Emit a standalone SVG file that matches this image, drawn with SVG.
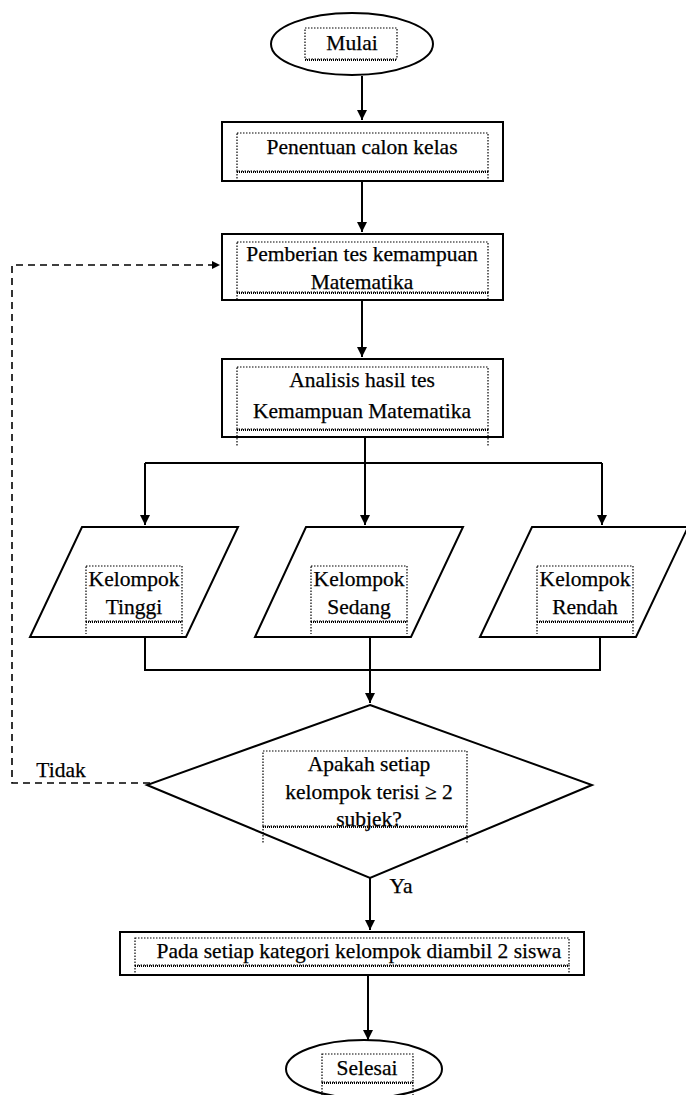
<svg xmlns="http://www.w3.org/2000/svg" width="686" height="1095" viewBox="0 0 686 1095">
<style>
.sh{fill:#fff;stroke:#000;stroke-width:2}
.tb{fill:none;stroke:#000;stroke-width:1.2;stroke-dasharray:1.5 1.5}
.wv{fill:none;stroke:#000;stroke-width:2.2;stroke-dasharray:1 1}
.ln{fill:none;stroke:#000;stroke-width:2}
.dl{fill:none;stroke:#000;stroke-width:1.6;stroke-dasharray:7 5}
.t{fill:#000;stroke:#000;stroke-width:0.25;text-anchor:middle}
</style>
<defs>
<marker id="ah" viewBox="0 0 10 10" refX="10" refY="5" markerWidth="5" markerHeight="5" orient="auto" markerUnits="strokeWidth">
<path d="M0,0 L10,5 L0,10 z" fill="#000"/>
</marker>
</defs>
<rect width="686" height="1095" fill="#fff"/>
<g font-family="Liberation Serif, Times New Roman, serif" font-size="21.5">
<g id="connectors">
<path class="ln" d="M362,76 V120" marker-end="url(#ah)"/>
<path class="ln" d="M362,181 V232" marker-end="url(#ah)"/>
<path class="ln" d="M362,300 V357" marker-end="url(#ah)"/>
<path class="ln" d="M365,437 V463 M145,463 H602"/>
<path class="ln" d="M145,463 V525" marker-end="url(#ah)"/>
<path class="ln" d="M365,463 V525" marker-end="url(#ah)"/>
<path class="ln" d="M602,463 V525" marker-end="url(#ah)"/>
<path class="ln" d="M145,637 V670 H600 V637 M370,637 V670"/>
<path class="ln" d="M370,670 V703" marker-end="url(#ah)"/>
<path class="dl" d="M150,783 H12 V265 H220" marker-end="url(#ah)"/>
<path class="ln" d="M370,878 V930" marker-end="url(#ah)"/>
<path class="ln" d="M368,975 V1040" marker-end="url(#ah)"/>
<text class="t" x="61" y="777">Tidak</text>
<text class="t" x="401" y="893">Ya</text>
</g>
<g id="mulai">
<ellipse class="sh" cx="352" cy="44" rx="81" ry="31"/>
<rect class="tb" x="305" y="28" width="92" height="31"/>
<path class="wv" d="M305,60 H397"/>
<text class="t" x="352" y="50">Mulai</text>
</g>
<g id="penentuan">
<rect class="sh" x="222" y="122" width="281" height="59"/>
<rect class="tb" x="237" y="133" width="251" height="38"/>
<path class="wv" d="M237,172 H488"/>
<path class="tb" d="M237,171 V181 M488,171 V181"/>
<text class="t" x="362" y="154">Penentuan calon kelas</text>
</g>
<g id="pemberian">
<rect class="sh" x="222" y="234" width="281" height="66"/>
<rect class="tb" x="237" y="242" width="251" height="50"/>
<path class="wv" d="M237,293 H488"/>
<path class="tb" d="M237,292 V300 M488,292 V300"/>
<text class="t" x="362" y="261">Pemberian tes kemampuan</text>
<text class="t" x="362" y="289">Matematika</text>
</g>
<g id="analisis">
<rect class="sh" x="222" y="359" width="281" height="78"/>
<rect class="tb" x="237" y="367" width="251" height="62"/>
<path class="wv" d="M237,430 H488"/>
<path class="tb" d="M237,429 V446 M488,429 V446"/>
<text class="t" x="362" y="387">Analisis hasil tes</text>
<text class="t" x="362" y="418">Kemampuan Matematika</text>
</g>
<g id="tinggi">
<polygon class="sh" points="82,527 238,527 186,637 30,637"/>
<rect class="tb" x="86" y="566" width="96" height="55"/>
<path class="wv" d="M86,622 H182"/>
<path class="tb" d="M86,621 V634 M182,621 V634"/>
<text class="t" x="134" y="586">Kelompok</text>
<text class="t" x="134" y="614">Tinggi</text>
</g>
<g id="sedang">
<polygon class="sh" points="306,527 463,527 411,637 255,637"/>
<rect class="tb" x="311" y="566" width="96" height="55"/>
<path class="wv" d="M311,622 H407"/>
<path class="tb" d="M311,621 V634 M407,621 V634"/>
<text class="t" x="359" y="586">Kelompok</text>
<text class="t" x="359" y="614">Sedang</text>
</g>
<g id="rendah">
<polygon class="sh" points="532,527 688,527 636,637 480,637"/>
<rect class="tb" x="537" y="566" width="96" height="55"/>
<path class="wv" d="M537,622 H633"/>
<path class="tb" d="M537,621 V634 M633,621 V634"/>
<text class="t" x="585" y="586">Kelompok</text>
<text class="t" x="585" y="614">Rendah</text>
</g>
<g id="keputusan">
<polygon class="sh" points="370,705 592,785 370,878 147,785"/>
<rect class="tb" x="263" y="751" width="204" height="75"/>
<path class="wv" d="M263,827 H467"/>
<path class="tb" d="M263,826 V844 M467,826 V844"/>
<text class="t" x="369" y="771">Apakah setiap</text>
<text class="t" x="369" y="799">kelompok terisi ≥ 2</text>
<text class="t" x="369" y="826">subjek?</text>
</g>
<g id="pada">
<rect class="sh" x="120" y="932" width="464" height="43"/>
<rect class="tb" x="135" y="938" width="434" height="27"/>
<path class="wv" d="M135,966 H569"/>
<path class="tb" d="M135,965 V975 M569,965 V975"/>
<text class="t" x="359" y="958">Pada setiap kategori  kelompok diambil 2 siswa</text>
</g>
<g id="selesai">
<ellipse class="sh" cx="364" cy="1069" rx="78" ry="29"/>
<rect class="tb" x="322" y="1054" width="91" height="28"/>
<path class="wv" d="M322,1083 H413"/>
<path class="tb" d="M322,1082 V1095 M413,1082 V1095"/>
<text class="t" x="367" y="1075">Selesai</text>
</g>
</g>
</svg>
